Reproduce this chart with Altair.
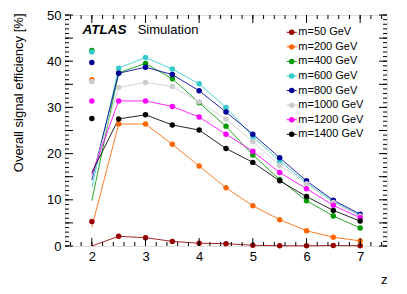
import altair as alt
import pandas as pd

# ---------------- data ----------------
masses = ["m=50 GeV", "m=200 GeV", "m=400 GeV", "m=600 GeV",
          "m=800 GeV", "m=1000 GeV", "m=1200 GeV", "m=1400 GeV"]
colors = ["#990000", "#ff6600", "#009a00", "#33cccc",
          "#000099", "#cccccc", "#ff00ff", "#000000"]

z_vals = [2.5, 3.0, 3.5, 4.0, 4.5, 5.0, 5.5, 6.0, 6.5, 7.0]

eff_m50   = [2.1, 1.8, 1.0, 0.6, 0.5, 0.15, 0.05, 0.05, 0.1, 0.05]
eff_m200  = [26.4, 26.4, 22.0, 17.3, 12.6, 8.7, 5.7, 3.3, 1.9, 1.1]
eff_m400  = [37.5, 39.5, 36.2, 31.0, 25.9, 19.7, 14.4, 9.8, 6.5, 3.9]
eff_m600  = [38.5, 40.8, 38.3, 35.1, 30.0, 23.7, 18.4, 13.7, 9.6, 6.6]
eff_m800  = [37.4, 38.7, 37.1, 33.6, 29.0, 24.2, 19.1, 14.1, 9.9, 6.9]
eff_m1000 = [34.3, 35.4, 34.5, 31.2, 27.5, 22.6, 17.5, 13.5, 9.4, 6.5]
eff_m1200 = [31.4, 31.4, 30.2, 27.9, 24.2, 20.5, 15.9, 12.4, 8.8, 6.1]
eff_m1400 = [27.5, 28.4, 26.2, 25.1, 21.1, 18.1, 14.1, 10.7, 7.7, 5.4]
series = [eff_m50, eff_m200, eff_m400, eff_m600,
          eff_m800, eff_m1000, eff_m1200, eff_m1400]

# value where each line starts at z=2, and the (separately drawn) marker at z=2
line_start_z2 = [0.0, 4.1, 9.8, 12.7, 14.3, 15.0, 15.5, 15.9]
marker_z2     = [5.3, 36.0, 42.3, 42.0, 39.7, 35.6, 31.4, 27.6]

x_major = [2, 3, 4, 5, 6, 7]
y_major = [0, 5, 10, 15, 20, 25, 30, 35, 40, 45, 50]

# ---------------- tables ----------------
line_rows, pt_rows = [], []
for k, (m, vals) in enumerate(zip(masses, series)):
    line_rows.append({"mass": m, "k": k, "z": 2.0, "eff": line_start_z2[k]})
    pt_rows.append({"mass": m, "k": k, "z": 2.0, "eff": marker_z2[k]})
    for z, v in zip(z_vals, vals):
        line_rows.append({"mass": m, "k": k, "z": z, "eff": v})
        pt_rows.append({"mass": m, "k": k, "z": z, "eff": v})
line_df = pd.DataFrame(line_rows)
pt_df = pd.DataFrame(pt_rows)
leg_df = pd.DataFrame({"mass": masses, "i": list(range(len(masses)))})

x_minor = [round(1.5 + 0.2 * i + 0.1, 2) for i in range(30) if 1.5 < 1.5 + 0.2 * i + 0.1 < 7.5]
y_minor = list(range(0, 51))
xt_major = pd.DataFrame({"t": x_major})
xt_minor = pd.DataFrame({"t": x_minor})
yt_major = pd.DataFrame({"t": y_major})
yt_minor = pd.DataFrame({"t": y_minor})

W, H = 322, 231
FONT = "Liberation Sans"

xscale = alt.Scale(domain=[1.5, 7.5], nice=False, zero=False)
yscale = alt.Scale(domain=[0, 50], nice=False)
cscale = alt.Scale(domain=masses, range=colors)

xenc = alt.X("z:Q", scale=xscale,
             axis=alt.Axis(values=x_major, format="d", title="z", grid=False,
                           ticks=False, tickSize=0, domain=False, labelPadding=4,
                           labelFontSize=13, labelFont=FONT, labelColor="black",
                           titleFont=FONT, titleFontSize=13, titleFontWeight="normal",
                           titleColor="black", titleX=W, titleY=37,
                           titleAlign="right", titleBaseline="alphabetic"))
yenc = alt.Y("eff:Q", scale=yscale,
             axis=alt.Axis(values=y_major, format="d",
                           title="Overall signal efficiency [%]", grid=False,
                           ticks=False, tickSize=0, domain=False, labelPadding=4,
                           labelFontSize=13, labelFont=FONT, labelColor="black",
                           titleFont=FONT, titleFontSize=13, titleFontWeight="normal",
                           titleColor="black", titleAngle=-90, titleX=-47, titleY=-2,
                           titleAlign="right", titleBaseline="middle"))

lines = alt.Chart(line_df).mark_line(strokeWidth=1, opacity=0.85).encode(
    x=xenc, y=yenc,
    color=alt.Color("mass:N", scale=cscale, legend=None),
    detail="k:N", order="z:Q")
points = alt.Chart(pt_df).mark_circle(size=30, opacity=1).encode(
    x=alt.X("z:Q", scale=xscale), y=alt.Y("eff:Q", scale=yscale),
    color=alt.Color("mass:N", scale=cscale, legend=None))

MAJ, MIN = 8, 4
def xticks(df, L):
    b = alt.Chart(df).mark_rule(color="black", strokeWidth=1).encode(
        x=alt.X("t:Q", scale=xscale), y=alt.value(H), y2=alt.value(H - L))
    t = alt.Chart(df).mark_rule(color="black", strokeWidth=1).encode(
        x=alt.X("t:Q", scale=xscale), y=alt.value(0), y2=alt.value(L))
    return b + t
def yticks(df, L):
    l = alt.Chart(df).mark_rule(color="black", strokeWidth=1).encode(
        y=alt.Y("t:Q", scale=yscale), x=alt.value(0), x2=alt.value(L))
    r = alt.Chart(df).mark_rule(color="black", strokeWidth=1).encode(
        y=alt.Y("t:Q", scale=yscale), x=alt.value(W), x2=alt.value(W - L))
    return l + r

# legend
LX, LY0, LDY = 226.7, 17.3, 14.57
leg_base = alt.Chart(leg_df).transform_calculate(ly=f"{LY0} + datum.i * {LDY}")
leg_line = leg_base.mark_rule(strokeWidth=1).encode(
    x=alt.value(LX - 5), x2=alt.value(LX + 5),
    y=alt.Y("ly:Q", scale=None),
    color=alt.Color("mass:N", scale=cscale, legend=None))
leg_pt = leg_base.mark_circle(size=30, opacity=1).encode(
    x=alt.value(LX), y=alt.Y("ly:Q", scale=None),
    color=alt.Color("mass:N", scale=cscale, legend=None))
leg_txt = leg_base.mark_text(align="left", baseline="middle", font=FONT,
                             fontSize=11, color="black").encode(
    x=alt.value(LX + 6.6), y=alt.Y("ly:Q", scale=None), text="mass:N")

atlas = alt.Chart(pd.DataFrame({"a": [0]})).mark_text(
    text="ATLAS", font=FONT, fontSize=13.5, fontWeight="bold", fontStyle="italic",
    align="left", baseline="alphabetic", color="black").encode(
    x=alt.value(17.5), y=alt.value(19))
simu = alt.Chart(pd.DataFrame({"a": [0]})).mark_text(
    text="Simulation", font=FONT, fontSize=13, align="left",
    baseline="alphabetic", color="black").encode(
    x=alt.value(72.7), y=alt.value(19))

chart = alt.layer(
    lines, points,
    xticks(xt_major, MAJ), xticks(xt_minor, MIN),
    yticks(yt_major, MAJ), yticks(yt_minor, MIN),
    leg_line, leg_pt, leg_txt, atlas, simu,
).properties(
    width=W, height=H,
    autosize=alt.AutoSizeParams(type="none"),
    padding={"left": 57, "top": 7, "right": 12, "bottom": 40},
).configure_view(stroke="black", strokeWidth=1).configure(background="white")

chart.save("out.html", embed_options={"renderer": "svg", "actions": False})
